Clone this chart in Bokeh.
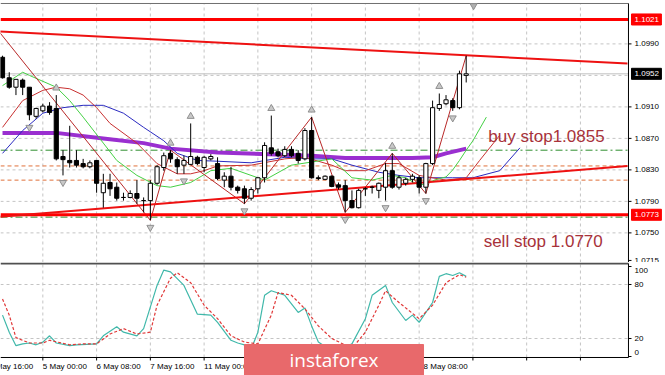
from bokeh.plotting import figure
from bokeh.models import Range1d
from bokeh.layouts import column
from bokeh.embed import file_html
from bokeh.resources import INLINE
from bokeh.core.properties import value

# ---------------- data (EURUSD H4) ----------------
opens = [1.0973,1.0947,1.0935,1.0944,1.0935,1.0898,1.0905,1.0911,1.0908,1.0847,
         1.0842,1.0842,1.0838,1.0834,1.0842,1.0801,1.0814,1.0808,1.0795,1.0795,
         1.0800,1.0791,1.0791,1.0813,1.0833,1.0851,1.0843,1.0836,1.0837,1.0846,
         1.0833,1.0844,1.0838,1.0817,1.0822,1.0808,1.0806,1.0794,1.0806,1.0820,
         1.0858,1.0853,1.0848,1.0856,1.0851,1.0844,1.0880,1.0820,1.0818,1.0822,
         1.0811,1.0810,1.0791,1.0782,1.0806,1.0808,1.0804,1.0808,1.0829,1.0808,
         1.0813,1.0818,1.0820,1.0808,1.0838,1.0908,1.0914,1.0918,1.0909,1.0950]
closes = [1.0947,1.0935,1.0945,1.0935,1.0900,1.0908,1.0911,1.0903,1.0844,1.0843,
          1.0839,1.0836,1.0834,1.0839,1.0813,1.0813,1.0806,1.0794,1.0795,1.0800,
          1.0794,1.0791,1.0813,1.0834,1.0848,1.0844,1.0834,1.0842,1.0847,1.0838,
          1.0846,1.0847,1.0819,1.0822,1.0808,1.0804,1.0794,1.0805,1.0820,1.0861,
          1.0851,1.0848,1.0856,1.0848,1.0842,1.0880,1.0820,1.0819,1.0822,1.0809,
          1.0808,1.0791,1.0782,1.0804,1.0806,1.0808,1.0813,1.0829,1.0808,1.0820,
          1.0818,1.0822,1.0808,1.0838,1.0909,1.0913,1.0919,1.0909,1.0952,1.0952]
highs = [1.0975,1.0954,1.0945,1.0946,1.0935,1.0909,1.0914,1.0916,1.0925,1.0855,
         1.0886,1.0855,1.0844,1.0842,1.0842,1.0825,1.0825,1.0814,1.0801,1.0804,
         1.0817,1.0795,1.0817,1.0836,1.0852,1.0855,1.0846,1.0848,1.0889,1.0848,
         1.0848,1.0850,1.0846,1.0827,1.0834,1.0810,1.0810,1.0808,1.0820,1.0865,
         1.0899,1.0857,1.0860,1.0860,1.0855,1.0883,1.0897,1.0823,1.0823,1.0823,
         1.0814,1.0817,1.0804,1.0806,1.0808,1.0810,1.0814,1.0839,1.0851,1.0823,
         1.0820,1.0825,1.0823,1.0839,1.0918,1.0927,1.0925,1.0921,1.0956,1.0975]
lows = [1.0946,1.0933,1.0925,1.0925,1.0893,1.0895,1.0903,1.0900,1.0842,1.0823,
        1.0833,1.0833,1.0832,1.0832,1.0801,1.0782,1.0797,1.0791,1.0791,1.0794,
        1.0787,1.0776,1.0766,1.0811,1.0829,1.0839,1.0825,1.0825,1.0836,1.0836,
        1.0827,1.0842,1.0817,1.0808,1.0804,1.0800,1.0787,1.0791,1.0800,1.0814,
        1.0848,1.0846,1.0846,1.0846,1.0838,1.0842,1.0819,1.0817,1.0817,1.0808,
        1.0805,1.0776,1.0781,1.0781,1.0797,1.0800,1.0794,1.0791,1.0806,1.0805,
        1.0810,1.0814,1.0800,1.0800,1.0836,1.0905,1.0912,1.0905,1.0907,1.0941]

# Alligator lines (shifted forward), long MA, zigzag
lips_bar = [0,3,4,8,10,12,15,17,20,23,25,28,31,34,39,43,49,52,55,58,60,62,65,66,67,68,69,70,72]
lips_val = [1.0937,1.0954,1.0950,1.0935,1.0918,1.0897,1.0864,1.0842,1.0823,1.0810,1.0808,1.0814,1.0829,1.0832,
            1.0817,1.0836,1.0844,1.0820,1.0817,1.0823,1.0820,1.0810,1.0819,1.0821,1.0830,1.0842,1.0855,1.0867,1.0897]
teeth_bar = [0,3,6,8,10,12,14,16,20,23,26,28,30,32,37,42,45,49,51,54,57,59,62,64,66,69,71,74]
teeth_val = [1.0884,1.0918,1.0931,1.0935,1.0933,1.0925,1.0909,1.0889,1.0864,1.0838,1.0825,1.0825,1.0829,1.0835,
             1.0836,1.0844,1.0846,1.0836,1.0829,1.0829,1.0838,1.0838,1.0823,1.0820,1.0817,1.0820,1.0842,1.0874]
jaw_bar = [0,3,6,9,12,15,18,21,24,26,29,32,37,42,46,49,52,56,59,62,67,70,74,77]
jaw_val = [1.0851,1.0880,1.0902,1.0909,1.0912,1.0912,1.0902,1.0884,1.0867,1.0851,1.0842,1.0841,
           1.0839,1.0846,1.0844,1.0844,1.0836,1.0827,1.0823,1.0820,1.0820,1.0820,1.0829,1.0858]
ma_bar = [0,8,15,21,25,32,46,51,56,61,64,66,69]
ma_val = [1.0877,1.0877,1.0870,1.0864,1.0857,1.0852,1.0848,1.0845,1.0845,1.0845,1.0846,1.0851,1.0857]
zigzag_bar = [-3,22,25,36,46,51,58,63,69]
zigzag_val = [1.1032,1.0766,1.0855,1.0787,1.0897,1.0776,1.0851,1.0800,1.0975]
fractal_up = [8,25,28,40,46,58,65]
fractal_dn = [4,9,22,27,36,51,57,63,67]

# levels and trend lines
resistance = 1.1021
support = 1.0773
buy_stop = 1.0855
sell_stop = 1.0770
stop_levels = [1.0835, 1.0817]
bid = 1.0952
upper_trend_bar = [-1, 93]
upper_trend_val = [1.1006, 1.0965]
lower_trend_bar = [-1, 93]
lower_trend_val = [1.0770, 1.0835]

price_ticks = [1.0715, 1.0750, 1.0790, 1.0830, 1.0870, 1.0910, 1.0990]
price_grid = [1.0750, 1.0790, 1.0830, 1.0870, 1.0910, 1.0950, 1.0990]
price_boxes = [resistance, bid, support]
price_box_colors = ["#ff0000", "#000000", "#ff0000"]

# Stochastic
k_bar = [0,1,2,3,4,5,6,7,8,10,11,14,15,17,18,20,21,23,24,25,27,29,31,32,34,35,36,37,38,39,
         40,42,44,45,46,47,49,50,52,54,55,57,58,60,61,62,64,65,66,67,68,69]
k_val = [46,27,12,14,15,13,16,23,15,12,13,14,23,33,27,23,31,79,96,94,79,47,46,38,18,15,13,8,27,68,
         73,68,49,54,34,16,6,7,14,42,68,79,60,40,46,38,60,89,92,90,93,89]
d_bar = [0,1,2,4,6,7,10,12,14,16,18,20,22,23,25,26,28,30,32,34,36,38,40,41,43,45,47,49,52,54,
         56,57,59,61,62,64,66,68,69]
d_val = [64,46,21,15,15,18,13,14,14,25,31,25,27,57,87,93,82,57,42,23,16,14,46,71,68,53,34,20,9,27,
         57,73,60,48,42,57,82,91,88]
stoch_ticks = [0, 20, 80, 100]
stoch_levels = [20, 80]

time_ticks = [-2, 6, 14, 22, 30, 38, 46, 54, 62]
time_labels = ["1 May 16:00", "5 May 00:00", "6 May 08:00", "7 May 16:00", "11 May 00:00",
               "12 May 08:00", "13 May 16:00", "15 May 00:00", "18 May 08:00"]
grid_bars = [-2, 6, 14, 22, 30, 38, 46, 54, 62, 70, 78, 86]

# ---------------- layout constants (bar units / price units) ----------------
FONT = value("Liberation Sans")
X0, XR, XMAX = -0.3, 93.15, 98.66          # left edge, chart right edge, canvas right edge
xr = Range1d(X0, XMAX)
P_BOT, P_TOP_LINE, P_TOP = 1.07124, 1.10413, 1.10451
S_BOT, S_FRAME_BOT, S_FRAME_TOP, S_TOP = -21.11, -1.11, 103.3, 104.44

def bare(fig):
    fig.grid.visible = False
    fig.outline_line_color = None
    fig.background_fill_color = "white"
    fig.border_fill_color = "white"

# ---------------- main panel ----------------
p = figure(width=665, height=262, x_range=xr, y_range=Range1d(P_BOT, P_TOP),
           output_backend="svg", toolbar_location=None, x_axis_location=None,
           y_axis_location=None, min_border=0)
bare(p)

# grid
p.segment(x0=[X0] * len(price_grid), y0=price_grid, x1=[XR] * len(price_grid), y1=price_grid,
          line_color="#c4c4c4", line_dash="3 3", line_width=1)
p.segment(x0=grid_bars, y0=[P_BOT] * len(grid_bars), x1=grid_bars, y1=[P_TOP_LINE] * len(grid_bars),
          line_color="#c4c4c4", line_dash="3 3", line_width=1)

# bid line
p.line([X0, XR], [bid, bid], line_color="#c0c0c0", line_width=1)
# order / stop levels
p.line([X0, XR], [buy_stop, buy_stop], line_color="#2f8f2f", line_dash="7 3 2 3", line_width=1)
p.line([X0, XR], [sell_stop, sell_stop], line_color="#2f8f2f", line_dash="7 3 2 3", line_width=1)
for lv in stop_levels:
    p.line([X0, XR], [lv, lv], line_color="#e0703a", line_dash="4 3", line_width=1)

# long MA
p.line(ma_bar, ma_val, line_color="#9a2fd0", line_width=4)
# Alligator
p.line(jaw_bar, jaw_val, line_color="#2a2ac0", line_width=1)
p.line(teeth_bar, teeth_val, line_color="#c83030", line_width=1)
p.line(lips_bar, lips_val, line_color="#44d044", line_width=1)
# zigzag
p.line(zigzag_bar, zigzag_val, line_color="#b82828", line_width=1)

# horizontal S/R and trend lines
p.line([X0, XR], [resistance, resistance], line_color="#ff0000", line_width=3)
p.line([X0, XR], [support, support], line_color="#ff0000", line_width=3)
p.line(upper_trend_bar, upper_trend_val, line_color="#ee1111", line_width=2)
p.line(lower_trend_bar, lower_trend_val, line_color="#ee1111", line_width=2)

# candles
bars = list(range(len(opens)))
p.segment(bars, highs, bars, lows, line_color="black", line_width=1)
up_i = [i for i in bars if closes[i] >= opens[i]]
dn_i = [i for i in bars if closes[i] < opens[i]]
p.vbar(x=up_i, width=0.62, top=[closes[i] for i in up_i], bottom=[opens[i] for i in up_i],
       fill_color="white", line_color="black", line_width=1)
p.vbar(x=dn_i, width=0.62, top=[opens[i] for i in dn_i], bottom=[closes[i] for i in dn_i],
       fill_color="black", line_color="black", line_width=1)

# fractals
p.scatter(fractal_up, [highs[i] + 0.0009 for i in fractal_up], marker="triangle", size=7,
          fill_color="#c8c8c8", line_color="#909090")
p.scatter(fractal_dn, [lows[i] - 0.0009 for i in fractal_dn], marker="inverted_triangle", size=7,
          fill_color="#c8c8c8", line_color="#909090")

# frame edges
p.line([X0, XR], [P_TOP_LINE, P_TOP_LINE], line_color="#707070", line_width=1)
p.line([XR, XR], [P_BOT, P_TOP_LINE], line_color="black", line_width=1)
# chart shift marker
p.scatter([70.1], [1.10385], marker="inverted_triangle", size=7, fill_color="#b0b0b0", line_color="#909090")

# right price scale
p.segment(x0=[XR] * len(price_ticks), y0=price_ticks, x1=[XR + 0.45] * len(price_ticks), y1=price_ticks,
          line_color="black", line_width=1)
p.text(x=[XR + 0.9] * len(price_ticks), y=price_ticks, text=["%.4f" % t for t in price_ticks],
       text_font=FONT, text_font_size=value("8px"), text_color="black",
       text_align="left", text_baseline="middle")
p.quad(left=[XR + 0.45] * 3, right=[XR + 4.9] * 3,
       bottom=[v - 0.0007 for v in price_boxes], top=[v + 0.0007 for v in price_boxes],
       fill_color=price_box_colors, line_color=price_box_colors)
p.text(x=[XR + 0.9] * 3, y=price_boxes, text=["%.4f" % v for v in price_boxes],
       text_font=FONT, text_font_size=value("8px"), text_color="white",
       text_align="left", text_baseline="middle")

# order labels
p.text(x=[72.3], y=[1.08724], text=["buy stop1.0855"], text_font=FONT, text_font_size=value("17px"),
       text_color="#a8323a", text_baseline="alphabetic", text_align="left")
p.text(x=[71.6], y=[1.07391], text=["sell stop 1.0770"], text_font=FONT, text_font_size=value("17px"),
       text_color="#a8323a", text_baseline="alphabetic", text_align="left")

# ---------------- stochastic panel ----------------
s = figure(width=665, height=113, x_range=xr, y_range=Range1d(S_BOT, S_TOP),
           output_backend="svg", toolbar_location=None, x_axis_location=None,
           y_axis_location=None, min_border=0)
bare(s)

s.segment(x0=[X0] * 2, y0=stoch_levels, x1=[XR] * 2, y1=stoch_levels,
          line_color="#c4c4c4", line_dash="3 3", line_width=1)
s.segment(x0=grid_bars, y0=[S_FRAME_BOT] * len(grid_bars), x1=grid_bars, y1=[S_FRAME_TOP] * len(grid_bars),
          line_color="#c4c4c4", line_dash="3 3", line_width=1)

s.line(k_bar, k_val, line_color="#40b8aa", line_width=1.2)
s.line(d_bar, d_val, line_color="#e03838", line_width=1.2, line_dash="3 2")

# frame edges
s.line([X0, XR], [S_FRAME_TOP, S_FRAME_TOP], line_color="#505050", line_width=2)
s.line([X0, XR], [S_FRAME_BOT, S_FRAME_BOT], line_color="black", line_width=1)
s.line([XR, XR], [S_FRAME_BOT, S_FRAME_TOP], line_color="black", line_width=1)

# right scale
s.segment(x0=[XR] * 4, y0=stoch_ticks, x1=[XR + 0.45] * 4, y1=stoch_ticks, line_color="black")
s.text(x=[XR + 0.9] * 4, y=stoch_ticks, text=[str(t) for t in stoch_ticks], y_offset=[-4, 0, 0, 4],
       text_font=FONT, text_font_size=value("8px"), text_color="black",
       text_align="left", text_baseline="middle")

# time scale
s.segment(x0=grid_bars, y0=[S_FRAME_BOT] * len(grid_bars), x1=grid_bars,
          y1=[S_FRAME_BOT - 3.3] * len(grid_bars), line_color="black")
s.text(x=time_ticks, y=[-5.6] * len(time_ticks), text=time_labels, text_font=FONT,
       text_font_size=value("8px"), text_color="black", text_align="left", text_baseline="top")

# watermark
s.quad(left=[36.01], right=[62.65], bottom=[S_BOT], top=[13.33], fill_color="#e8696b", line_color="#e8696b")
s.text(x=[49.33], y=[-3.9], text=["instaforex"], text_font=value("Open Sans"), text_font_size=value("19px"),
       text_color="white", text_align="center", text_baseline="middle")

layout = column(p, s)
open("out.html", "w").write(file_html(layout, INLINE))
